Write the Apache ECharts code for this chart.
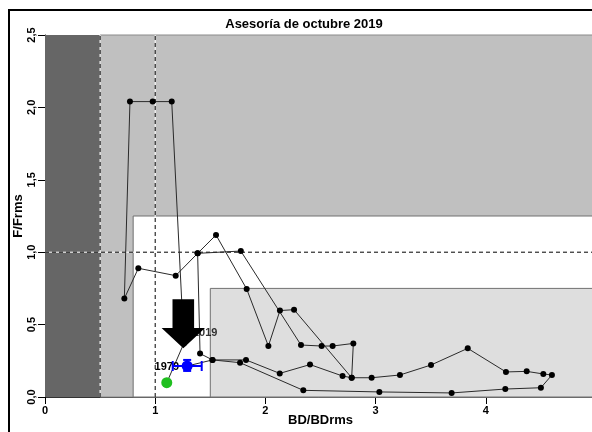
<!DOCTYPE html>
<html><head><meta charset="utf-8">
<script src="https://cdn.jsdelivr.net/npm/echarts@6/dist/echarts.min.js"></script>
<style>html,body{margin:0;padding:0;background:#fff}#c{width:592px;height:432px}</style>
</head><body><div id="c"></div>
<script>
// ---- data ----
const chartTitle = 'Asesoría de octubre 2019';
const xName = 'BD/BDrms';
const yName = 'F/Frms';
const xTickValues = [0, 1, 2, 3, 4];
const yTickValues = [0, 0.5, 1, 1.5, 2, 2.5];
const xRange = [0, 5];
const yRange = [0, 2.5];
// zones [x0, x1, y0, y1]
const zoneCollapse = [0, 0.5, 0, 2.5];
const zoneOver = [0.5, 5, 0, 2.5];
const zoneFull = [0.8, 5, 0, 1.25];
const zoneUnder = [1.5, 5, 0, 0.75];
const refVertical = [0.5, 1.0];
const refHorizontal = [1.0];
// trajectory (in drawing order)
const trajX = [1.105, 1.26, 1.150, 0.977, 0.771, 0.720, 0.847, 1.186, 1.385, 1.552, 1.830, 2.027, 2.132, 2.260,
  2.783, 2.798, 2.610, 2.510, 2.323, 1.777, 1.385, 1.407, 1.520, 1.824, 2.130, 2.405, 2.700, 2.783,
  2.964, 3.221, 3.503, 3.836, 4.183, 4.371, 4.522, 4.600, 4.500, 4.177, 3.690, 3.034, 2.344, 1.770, 1.520, 1.290];
const trajY = [0.099, 0.37, 2.04, 2.04, 2.04, 0.680, 0.889, 0.838, 0.992, 1.119, 0.746, 0.352, 0.597, 0.603,
  0.133, 0.370, 0.352, 0.352, 0.359, 1.008, 0.992, 0.300, 0.256, 0.256, 0.163, 0.224, 0.145, 0.133,
  0.133, 0.152, 0.221, 0.336, 0.173, 0.177, 0.159, 0.152, 0.064, 0.055, 0.028, 0.035, 0.046, 0.237, 0.256, 0.214];
const startPoint = [1.105, 0.099];
const startYear = '1979';
const currentPoint = [1.29, 0.214];
const currentYear = '2019';
const currentCIx = [1.159, 1.422];
const currentCIy = [0.180, 0.256];
// arrow: x, top of shaft, head base, tip
const arrowData = [1.255, 0.675, 0.476, 0.336];

const FONT = 'Liberation Sans, Arial, sans-serif';
const fmtY = v => v.toFixed(1).replace('.', ',');

function zoneArea(z, fill, border) {
  return [{ xAxis: z[0], yAxis: z[2], itemStyle: { color: fill, borderColor: border, borderWidth: border ? 1 : 0 } },
          { xAxis: z[1], yAxis: z[3] }];
}

const series = [];
series.push({
  type: 'line', data: [], silent: true, z: 1,
  markArea: {
    silent: true,
    data: [
      zoneArea(zoneCollapse, '#666666', null),
      zoneArea(zoneOver, '#c0c0c0', '#8a8a8a'),
      zoneArea(zoneFull, '#ffffff', '#707070'),
      zoneArea(zoneUnder, '#dedede', '#707070')
    ]
  }
});
refVertical.forEach(v => {
  const d = [[v, yRange[0]], [v, yRange[1]]];
  series.push({ type: 'line', data: d, symbol: 'none', silent: true, z: 2, lineStyle: { color: '#ffffff', width: 1 } });
  series.push({ type: 'line', data: d, symbol: 'none', silent: true, z: 3, lineStyle: { color: '#000', width: 1, type: [4, 3] } });
});
refHorizontal.forEach(v => {
  const d = [[xRange[0], v], [xRange[1], v]];
  series.push({ type: 'line', data: d, symbol: 'none', silent: true, z: 2, lineStyle: { color: '#ffffff', width: 1 } });
  series.push({ type: 'line', data: d, symbol: 'none', silent: true, z: 3, lineStyle: { color: '#000', width: 1, type: [4, 3] } });
});
series.push({
  type: 'line', z: 5, silent: true,
  data: trajX.map((x, i) => [x, trajY[i]]),
  symbol: 'circle', symbolSize: 6, showAllSymbol: true,
  itemStyle: { color: '#000' },
  lineStyle: { color: '#2a2a2a', width: 1 }
});
series.push({
  type: 'scatter', z: 6, silent: true,
  data: [startPoint], symbolSize: 11, itemStyle: { color: '#1fbf1f', opacity: 1 },
  label: { show: true, formatter: startYear, position: 'inside', offset: [0, -16],
    color: '#000', fontFamily: FONT, fontWeight: 'bold', fontSize: 11 }
});
series.push({
  type: 'custom', z: 7, silent: true,
  data: [[currentPoint[0], currentPoint[1], currentCIx[0], currentCIx[1], currentCIy[0], currentCIy[1]]],
  renderItem: (params, api) => {
    const c = api.coord([api.value(0), api.value(1)]);
    const l = api.coord([api.value(2), api.value(1)]);
    const r = api.coord([api.value(3), api.value(1)]);
    const b = api.coord([api.value(0), api.value(4)]);
    const t = api.coord([api.value(0), api.value(5)]);
    const st = { stroke: '#0000ff', lineWidth: 2 };
    return { type: 'group', children: [
      { type: 'line', shape: { x1: l[0], y1: l[1], x2: r[0], y2: r[1] }, style: st },
      { type: 'line', shape: { x1: l[0], y1: l[1] - 5, x2: l[0], y2: l[1] + 5 }, style: st },
      { type: 'line', shape: { x1: r[0], y1: r[1] - 5, x2: r[0], y2: r[1] + 5 }, style: st },
      { type: 'line', shape: { x1: b[0], y1: b[1], x2: t[0], y2: t[1] }, style: st },
      { type: 'line', shape: { x1: b[0] - 4, y1: b[1], x2: b[0] + 4, y2: b[1] }, style: st },
      { type: 'line', shape: { x1: t[0] - 4, y1: t[1], x2: t[0] + 4, y2: t[1] }, style: st },
      { type: 'circle', shape: { cx: c[0], cy: c[1], r: 5.5 }, style: { fill: '#0000ff' } }
    ] };
  }
});
series.push({
  type: 'scatter', z: 6, silent: true,
  data: [currentPoint], symbolSize: 0, itemStyle: { color: 'rgba(0,0,0,0)' },
  label: { show: true, formatter: currentYear, position: 'inside', offset: [18, -33],
    color: '#000', fontFamily: FONT, fontWeight: 'bold', fontSize: 11 }
});
series.push({
  type: 'custom', z: 9, silent: true,
  data: [arrowData],
  renderItem: (params, api) => {
    const top = api.coord([api.value(0), api.value(1)]);
    const base = api.coord([api.value(0), api.value(2)]);
    const tip = api.coord([api.value(0), api.value(3)]);
    const sw = 10.8, hw = 21.7;
    return { type: 'polygon', shape: { points: [
      [top[0] - sw, top[1]], [top[0] + sw, top[1]], [base[0] + sw, base[1]], [base[0] + hw, base[1]],
      [tip[0], tip[1]], [base[0] - hw, base[1]], [base[0] - sw, base[1]] ] },
      style: { fill: '#000' } };
  }
});

const chart = echarts.init(document.getElementById('c'), null, { renderer: 'canvas' });
chart.setOption({
  animation: false,
  backgroundColor: '#fff',
  grid: { left: 45, right: -4, top: 35, bottom: 35, containLabel: false, outerBoundsMode: 'none' },
  xAxis: {
    type: 'value', min: xRange[0], max: xRange[1],
    name: xName, nameLocation: 'middle', nameGap: 17, nameMoveOverlap: false,
    nameTextStyle: { fontFamily: FONT, fontWeight: 'bold', fontSize: 13, color: '#000' },
    axisLine: { show: true, onZero: false, lineStyle: { color: '#333', width: 1 } },
    axisTick: { show: true, length: 7, customValues: xTickValues, lineStyle: { color: '#000' } },
    axisLabel: { customValues: xTickValues, margin: 8, fontFamily: FONT, fontWeight: 'bold', fontSize: 11, color: '#000' },
    splitLine: { show: false }
  },
  yAxis: {
    type: 'value', min: yRange[0], max: yRange[1], interval: 0.5,
    name: yName, nameLocation: 'middle', nameGap: 20, nameMoveOverlap: false,
    nameTextStyle: { fontFamily: FONT, fontWeight: 'bold', fontSize: 13, color: '#000' },
    axisLine: { show: true, onZero: false, lineStyle: { color: '#000', width: 1 } },
    axisTick: { show: true, length: 7, customValues: yTickValues, lineStyle: { color: '#000' } },
    axisLabel: { customValues: yTickValues, rotate: 90, margin: 8, formatter: fmtY,
      fontFamily: FONT, fontWeight: 'bold', fontSize: 11, color: '#000' },
    splitLine: { show: false }
  },
  graphic: [
    { type: 'rect', z: 100, shape: { x: 9, y: 10, width: 640, height: 480 },
      style: { fill: 'none', stroke: '#000', lineWidth: 2 } },
    { type: 'text', z: 100, x: 304, y: 24,
      style: { text: chartTitle, textAlign: 'center', textVerticalAlign: 'middle',
        font: 'bold 13px ' + FONT, fill: '#000' } }
  ],
  series: series
});
</script>
</body></html>
